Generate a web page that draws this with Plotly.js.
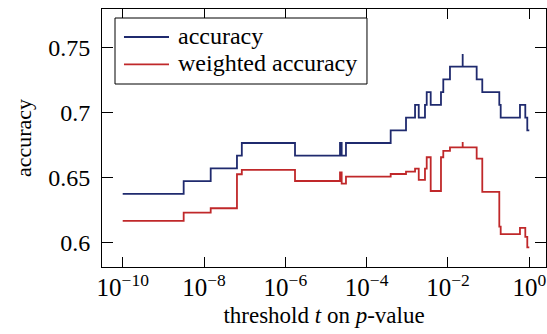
<!DOCTYPE html>
<html>
<head>
<meta charset="utf-8">
<script src="https://cdn.plot.ly/plotly-3.0.1.min.js"></script>
<style>html,body{margin:0;padding:0;background:#fff;}#chart{width:547px;height:334px;}</style>
</head>
<body>
<div id="chart"></div>
<script>
// Threshold t on p-value (step start positions; repeated value = spike)
const thresholds = [1e-10, 3.16e-9, 1.46e-8, 6.46e-8, 8.51e-8, 1.73e-6, 2.21e-5, 2.43e-5, 3.10e-5,
  3.90e-4, 9.29e-4, 1.55e-3, 1.91e-3, 2.72e-3, 3.00e-3, 3.76e-3, 6.73e-3, 7.67e-3, 1.12e-2,
  2.30e-2, 2.30e-2, 5.08e-2, 6.98e-2, 0.183, 0.198, 0.590, 0.798, 0.893, 1];
const accuracy = [0.6373, 0.6471, 0.6569, 0.6667, 0.6765, 0.6667, 0.6765, 0.6667, 0.6765,
  0.6863, 0.6961, 0.7059, 0.6961, 0.7059, 0.7157, 0.7059, 0.7157, 0.7255, 0.7353,
  0.7451, 0.7353, 0.7255, 0.7157, 0.7059, 0.6961, 0.7059, 0.6961, 0.6863, 0.6863];
const weightedAccuracy = [0.6164, 0.6228, 0.6262, 0.6524, 0.6557, 0.6472, 0.6539, 0.6452, 0.6506,
  0.6526, 0.6544, 0.6568, 0.6480, 0.6568, 0.6655, 0.6395, 0.6655, 0.6704, 0.6731,
  0.6772, 0.6731, 0.6645, 0.6388, 0.6120, 0.6062, 0.6110, 0.6041, 0.5961, 0.5961];
const seriesNames = ["accuracy", "weighted accuracy"];
const seriesColors = ["#1f2a6e", "#c0282a"];
const xTickVals = [1e-10, 1e-8, 1e-6, 1e-4, 1e-2, 1];
const xTickText = ["10<sup>−10</sup>", "10<sup>−8</sup>", "10<sup>−6</sup>", "10<sup>−4</sup>", "10<sup>−2</sup>", "10<sup>0</sup>"];
const yTickVals = [0.6, 0.65, 0.7, 0.75];
const yTickText = ["0.6", "0.65", "0.7", "0.75"];

const FONT = "Liberation Serif";
const traces = [
  {x: thresholds, y: accuracy, name: seriesNames[0], type: "scatter", mode: "lines",
   line: {shape: "hv", color: seriesColors[0], width: 1.8}},
  {x: thresholds, y: weightedAccuracy, name: seriesNames[1], type: "scatter", mode: "lines",
   line: {shape: "hv", color: seriesColors[1], width: 1.8}}
];

// Legend box (pgfplots style): frame, line samples and labels in paper coordinates
const legendBox = {x0: 0.0293, x1: 0.5968, y0: 0.7093, y1: 0.9651};
const legendRowsY = [0.8915, 0.7857];
const shapes = [
  {type: "rect", xref: "paper", yref: "paper", x0: legendBox.x0, x1: legendBox.x1,
   y0: legendBox.y0, y1: legendBox.y1, fillcolor: "#fff", line: {color: "#000", width: 1}, layer: "above"}
];
const annotations = [];
seriesNames.forEach((name, i) => {
  shapes.push({type: "line", xref: "paper", yref: "paper", x0: 0.0495, x1: 0.1509,
    y0: legendRowsY[i], y1: legendRowsY[i], line: {color: seriesColors[i], width: 1.8}, layer: "above"});
  annotations.push({xref: "paper", yref: "paper", x: 0.1660, y: legendRowsY[i] + 0.004,
    xanchor: "left", yanchor: "middle", text: name, showarrow: false,
    font: {family: FONT, size: 24, color: "#000"}});
});

const axisCommon = {showline: true, linecolor: "#000", linewidth: 1, mirror: "ticks",
  ticks: "inside", tickcolor: "#000", tickwidth: 1, showgrid: false, zeroline: false};
const layout = {
  width: 547, height: 334,
  margin: {l: 102, r: 1, t: 9, b: 67},
  paper_bgcolor: "#fff", plot_bgcolor: "#fff",
  font: {family: FONT, color: "#000", size: 22},
  showlegend: false,
  shapes: shapes,
  annotations: annotations,
  xaxis: Object.assign({}, axisCommon, {type: "log", range: [-10.509, 0.411], ticklen: 10,
    tickvals: xTickVals, ticktext: xTickText, tickfont: {family: FONT, size: 25, color: "#000"},
    ticklabelstandoff: -2,
    title: {text: "threshold <i>t</i> on <i>p</i>-value", font: {family: FONT, size: 23, color: "#000"}, standoff: 6}}),
  yaxis: Object.assign({}, axisCommon, {range: [0.5809, 0.7798], ticklen: 11,
    tickvals: yTickVals, ticktext: yTickText, tickfont: {family: FONT, size: 24, color: "#000"},
    ticklabelstandoff: 6,
    title: {text: "accuracy", font: {family: FONT, size: 22, color: "#000"}, standoff: 10}})
};
Plotly.newPlot("chart", traces, layout, {displayModeBar: false});
</script>
</body>
</html>
